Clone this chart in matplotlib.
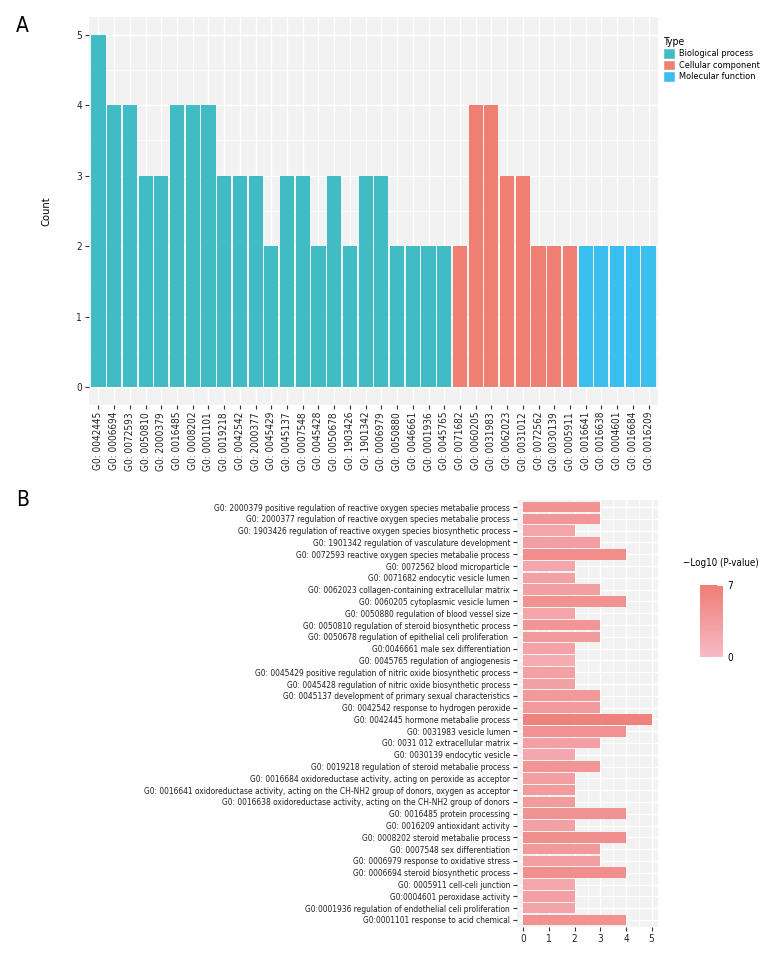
import numpy as np
import matplotlib
matplotlib.use("Agg")
import matplotlib.pyplot as plt
from matplotlib import font_manager as fm
from matplotlib.patches import Patch
from matplotlib.colors import LinearSegmentedColormap, Normalize
from matplotlib.ticker import MultipleLocator

# look for a narrow face, the reference uses a condensed sans
narrow = None
for f in fm.fontManager.ttflist:
    st = f.stretch
    is_narrow = ("Narrow" in f.name or "Condensed" in f.name
                 or (isinstance(st, str) and "condensed" in st)
                 or (isinstance(st, (int, float)) and st < 500))
    if is_narrow:
        if narrow is None or "Liberation" in f.name:
            narrow = f
if narrow is not None:
    plt.rcParams['font.family'] = [narrow.name, 'DejaVu Sans']
    plt.rcParams['font.stretch'] = narrow.stretch
    fs = 1.0
else:
    plt.rcParams['font.family'] = ['Liberation Sans', 'DejaVu Sans']
    fs = 0.85

# ---- data, panel A ----
bp_ids = ["0042445", "0006694", "0072593", "0050810", "2000379", "0016485", "0008202",
          "0001101", "0019218", "0042542", "2000377", "0045429", "0045137", "0007548",
          "0045428", "0050678", "1903426", "1901342", "0006979", "0050880", "0046661",
          "0001936", "0045765"]
bp_counts = [5, 4, 4, 3, 3, 4, 4, 4, 3, 3, 3, 2, 3, 3, 2, 3, 2, 3, 3, 2, 2, 2, 2]
cc_ids = ["0071682", "0060205", "0031983", "0062023", "0031012", "0072562", "0030139", "0005911"]
cc_counts = [2, 4, 4, 3, 3, 2, 2, 2]
mf_ids = ["0016641", "0016638", "0004601", "0016684", "0016209"]
mf_counts = [2, 2, 2, 2, 2]
type_names = ["Biological process", "Cellular component", "Molecular function"]
type_colors = ["#42BCC4", "#EF7E73", "#3ABFEE"]

# ---- data, panel B (top to bottom) ----
terms = [
    "G0: 2000379 positive regulation of reactive oxygen species metabalie process",
    "G0: 2000377 regulation of reactive oxygen species metabalie process",
    "G0: 1903426 regulation of reactive oxygen species biosynthetic process",
    "G0: 1901342 regulation of vasculature development",
    "G0: 0072593 reactive oxygen species metabalie process",
    "G0: 0072562 blood microparticle",
    "G0: 0071682 endocytic vesicle lumen",
    "G0: 0062023 collagen-containing extracellular matrix",
    "G0: 0060205 cytoplasmic vesicle lumen",
    "G0: 0050880 regulation of blood vessel size",
    "G0: 0050810 regulation of steroid biosynthetic process",
    "G0: 0050678 regulation of epithelial celi proliferation ",
    "G0:0046661 male sex differentiation",
    "G0: 0045765 regulation of angiogenesis",
    "G0: 0045429 positive regulation of nitric oxide biosynthetic process",
    "G0: 0045428 regulation of nitric oxide biosynthetic process",
    "G0: 0045137 development of primary sexual characteristics",
    "G0: 0042542 response to hydrogen peroxide",
    "G0: 0042445 hormone metabalie process",
    "G0: 0031983 vesicle lumen",
    "G0: 0031 012 extracellular matrix",
    "G0: 0030139 endocytic vesicle",
    "G0: 0019218 regulation of steroid metabalie process",
    "G0: 0016684 oxidoreductase activity, acting on peroxide as acceptor",
    "G0: 0016641 oxidoreductase activity, acting on the CH-NH2 group of donors, oxygen as acceptor",
    "G0: 0016638 oxidoreductase activity, acting on the CH-NH2 group of donors",
    "G0: 0016485 protein processing",
    "G0: 0016209 antioxidant activity",
    "G0: 0008202 steroid metabalie process",
    "G0: 0007548 sex differentiation",
    "G0: 0006979 response to oxidative stress",
    "G0: 0006694 steroid biosynthetic process",
    "G0: 0005911 cell-celi junction",
    "G0:0004601 peroxidase activity",
    "G0:0001936 regulation of endothelial celi proliferation",
    "G0:0001101 response to acid chemical",
]
term_counts = [3, 3, 2, 3, 4, 2, 2, 3, 4, 2, 3, 3, 2, 2, 2, 2, 3, 3, 5, 4, 3, 2, 3,
               2, 2, 2, 4, 2, 4, 3, 3, 4, 2, 2, 2, 4]
neglog_p = [4.5, 4.2, 2.5, 3.3, 5.3, 2.3, 3.0, 3.2, 4.7, 2.5, 4.3, 3.6, 2.7, 1.8, 3.0,
            3.0, 3.9, 3.7, 6.5, 4.6, 3.0, 2.2, 4.3, 3.3, 3.6, 3.6, 4.6, 3.0, 5.0, 3.9,
            3.3, 5.0, 2.2, 3.0, 2.6, 4.7]

W, H = 768, 960
fig = plt.figure(figsize=(W / 100, H / 100), dpi=100)

def box(l, t, r, b):
    return [l / W, 1 - b / H, (r - l) / W, (b - t) / H]

def style(ax):
    ax.set_facecolor("#F2F2F2")
    for s in ax.spines.values():
        s.set_visible(False)
    ax.set_axisbelow(True)
    ax.tick_params(length=3, width=0.8, color="#333333", labelsize=7.2 * fs,
                   labelcolor="#222222", pad=2)

# ---- panel A ----
axA = fig.add_axes(box(89, 17, 658, 405))
style(axA)
ids = ["G0: " + i for i in bp_ids + cc_ids + mf_ids]
counts = bp_counts + cc_counts + mf_counts
cols = ([type_colors[0]] * len(bp_ids) + [type_colors[1]] * len(cc_ids)
        + [type_colors[2]] * len(mf_ids))
x = np.arange(len(ids))
axA.bar(x, counts, width=0.9, color=cols, zorder=2)
axA.set_xlim(-0.6, len(ids) - 0.4)
axA.set_ylim(-0.25, 5.25)
axA.set_xticks(x)
axA.set_xticklabels(ids, rotation=90)
axA.yaxis.set_major_locator(MultipleLocator(1))
axA.yaxis.set_minor_locator(MultipleLocator(0.5))
axA.tick_params(axis="y", which="minor", length=0)
axA.grid(True, which="major", color="white", linewidth=1.0)
axA.grid(True, which="minor", axis="y", color="white", linewidth=0.5)
axA.set_ylabel("Count", fontsize=8 * fs, labelpad=18)
handles = [Patch(facecolor=c, edgecolor="white", label=n) for c, n in zip(type_colors, type_names)]
leg = axA.legend(handles=handles, title="Type", loc="upper left", bbox_to_anchor=(1.0, 0.96),
                 frameon=False, fontsize=6.6 * fs, title_fontsize=7.5 * fs, handlelength=1.4,
                 handleheight=1.4, handletextpad=0.4, labelspacing=0.1, borderpad=0)
leg._legend_box.align = "left"
fig.text(16 / W, 1 - 32 / H, "A", fontsize=15)

# ---- panel B ----
cmap = LinearSegmentedColormap.from_list("pk", ["#F6BAC6", "#EF7E77"])
norm = Normalize(0, 7)
axB = fig.add_axes(box(517, 500, 658, 927))
style(axB)
y = np.arange(len(terms))[::-1]
axB.barh(y, term_counts, height=0.9, color=cmap(norm(np.array(neglog_p))), zorder=2)
axB.set_ylim(-0.6, len(terms) - 0.4)
axB.set_xlim(-0.25, 5.25)
axB.set_yticks(y)
axB.set_yticklabels(terms, fontsize=6.0 * fs)
axB.xaxis.set_major_locator(MultipleLocator(1))
axB.xaxis.set_minor_locator(MultipleLocator(0.5))
axB.tick_params(axis="x", which="minor", length=0)
axB.grid(True, which="major", color="white", linewidth=1.0)
axB.grid(True, which="minor", axis="x", color="white", linewidth=0.5)
fig.text(16 / W, 1 - 506 / H, "B", fontsize=15)

cax = fig.add_axes(box(700, 585, 723, 657))
sm = plt.cm.ScalarMappable(norm=norm, cmap=cmap)
cb = fig.colorbar(sm, cax=cax, ticks=[0, 7])
cb.outline.set_visible(False)
cax.tick_params(length=4, color="white", labelsize=7.2 * fs, direction="in", pad=3)
cax.set_yticklabels(["0", "7"])
fig.text(721 / W, 1 - 563 / H, "\u2212Log10 (P-value)", fontsize=7 * fs,
         ha="center", va="center")

fig.savefig("out.png", dpi=100)
